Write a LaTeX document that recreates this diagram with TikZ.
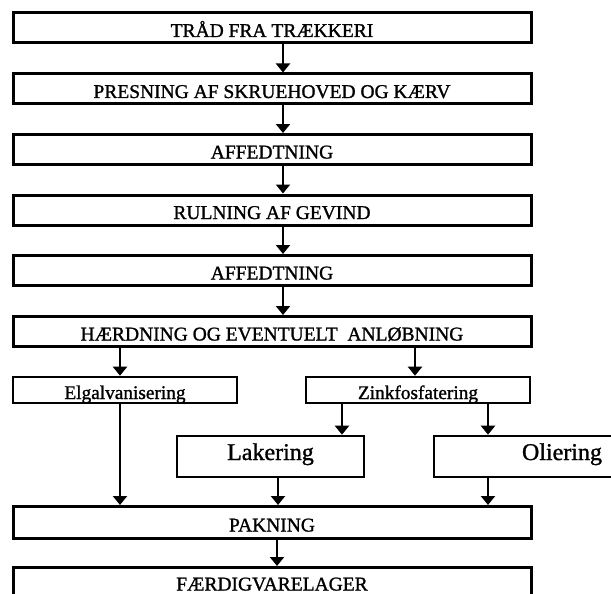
\documentclass[tikz,border=0pt]{standalone}
\usepackage{fontspec}
\setmainfont{Liberation Serif}
\newfontfamily\inkserif[FakeBold=1.2]{Liberation Serif}
\usetikzlibrary{arrows.meta}

\tikzset{
  stagebox/.style={draw, line width=3pt, inner sep=0pt, minimum width=518pt,
    minimum height=30pt, text height=18pt, text depth=0pt,
    font=\inkserif\fontsize{19.5pt}{20pt}\selectfont},
  treatbox/.style={draw, line width=2.6pt, inner sep=0pt, minimum width=224pt,
    minimum height=26pt, text height=18pt, text depth=0pt,
    font=\inkserif\fontsize{19.3pt}{20pt}\selectfont},
  finishbox/.style={draw, line width=2.6pt, inner sep=0pt,
    minimum height=41pt, text height=17pt, text depth=10pt,
    font=\inkserif\fontsize{24pt}{26pt}\selectfont},
  flow/.style={line width=2.2pt, -{Triangle[width=14pt,length=9pt]}}
}

\begin{document}
\begin{tikzpicture}[x=1pt,y=-1pt]
  \clip (0,0) rectangle (611,594);
  \fill[white] (0,0) rectangle (611,594);

  % process chain
  \node[stagebox] (b1) at (272,28) {TRÅD FRA TRÆKKERI};
  \node[stagebox] (b2) at (272,89) {PRESNING AF SKRUEHOVED OG KÆRV};
  \node[stagebox] (b3) at (272,149.5) {AFFEDTNING};
  \node[stagebox] (b4) at (272,210) {RULNING AF GEVIND};
  \node[stagebox] (b5) at (272,270.5) {AFFEDTNING};
  \node[stagebox] (b6) at (272,331.5) {HÆRDNING OG EVENTUELT\ \ ANLØBNING};

  % surface treatment
  \node[treatbox] (elg) at (125,390) {Elgalvanisering};
  \node[treatbox] (zink) at (418,390) {Zinkfosfatering};
  \node[finishbox, minimum width=187pt] (lak) at (270.5,456.5) {Lakering};
  \node[finishbox, minimum width=256pt] (oli) at (562,456.5) {Oliering};

  % packing and storage
  \node[stagebox, minimum height=32pt] (pak) at (272,522.5) {PAKNING};
  \node[stagebox, minimum height=32pt, text height=14pt] (lager) at (272,583.5) {FÆRDIGVARELAGER};

  % arrow columns
  \coordinate (cmain) at (283,0);
  \coordinate (celg) at (120,0);
  \coordinate (czink) at (415,0);
  \coordinate (clak) at (342,0);
  \coordinate (coli) at (488,0);
  \coordinate (clakout) at (278,0);
  \coordinate (cpak) at (277,0);

  \draw[flow] (b1.south -| cmain) -- (b2.north -| cmain);
  \draw[flow] (b2.south -| cmain) -- (b3.north -| cmain);
  \draw[flow] (b3.south -| cmain) -- (b4.north -| cmain);
  \draw[flow] (b4.south -| cmain) -- (b5.north -| cmain);
  \draw[flow] (b5.south -| cmain) -- (b6.north -| cmain);

  \draw[flow] (b6.south -| celg) -- (elg.north -| celg);
  \draw[flow] (b6.south -| czink) -- (zink.north -| czink);
  \draw[flow] (zink.south -| clak) -- (lak.north -| clak);
  \draw[flow] (zink.south -| coli) -- (oli.north -| coli);

  \draw[flow] (elg.south -| celg) -- (pak.north -| celg);
  \draw[flow] (lak.south -| clakout) -- (pak.north -| clakout);
  \draw[flow] (oli.south -| coli) -- (pak.north -| coli);

  \draw[flow] (pak.south -| cpak) -- (lager.north -| cpak);
\end{tikzpicture}
\end{document}
